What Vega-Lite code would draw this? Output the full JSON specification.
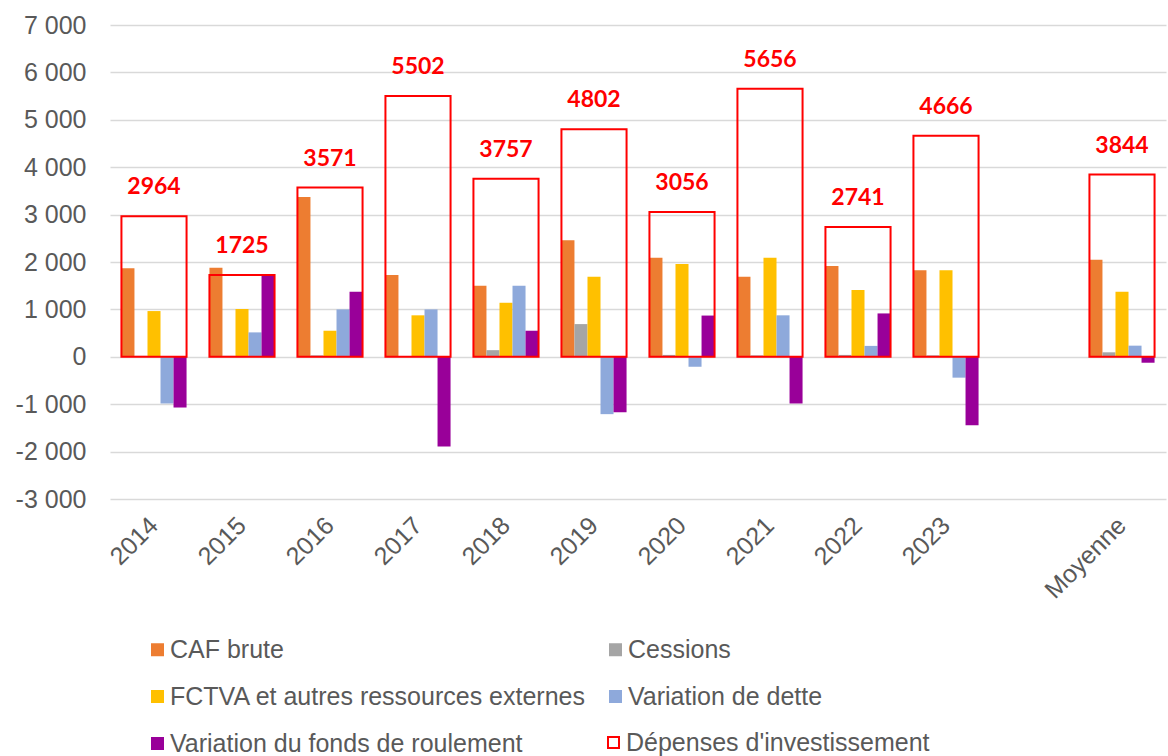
{
  "$schema": "https://vega.github.io/schema/vega-lite/v6.json",
  "width": 1056,
  "height": 474,
  "autosize": {"type": "none"},
  "padding": {"left": 110, "top": 25, "right": 2, "bottom": 257},
  "background": "white",
  "config": {"view": {"stroke": null}, "font": "Liberation Sans"},
  "data": {"values": [
    {"cat": "2014", "serie": "CAF brute", "value": 1870},
    {"cat": "2014", "serie": "Cessions", "value": 20},
    {"cat": "2014", "serie": "FCTVA et autres ressources externes", "value": 965},
    {"cat": "2014", "serie": "Variation de dette", "value": -985},
    {"cat": "2014", "serie": "Variation du fonds de roulement", "value": -1070},
    {"cat": "2014", "serie": "Dépenses d'investissement", "value": 2964},
    {"cat": "2015", "serie": "CAF brute", "value": 1880},
    {"cat": "2015", "serie": "Cessions", "value": 20},
    {"cat": "2015", "serie": "FCTVA et autres ressources externes", "value": 1010},
    {"cat": "2015", "serie": "Variation de dette", "value": 515},
    {"cat": "2015", "serie": "Variation du fonds de roulement", "value": 1715},
    {"cat": "2015", "serie": "Dépenses d'investissement", "value": 1725},
    {"cat": "2016", "serie": "CAF brute", "value": 3370},
    {"cat": "2016", "serie": "Cessions", "value": 30},
    {"cat": "2016", "serie": "FCTVA et autres ressources externes", "value": 550},
    {"cat": "2016", "serie": "Variation de dette", "value": 1000},
    {"cat": "2016", "serie": "Variation du fonds de roulement", "value": 1370},
    {"cat": "2016", "serie": "Dépenses d'investissement", "value": 3571},
    {"cat": "2017", "serie": "CAF brute", "value": 1725},
    {"cat": "2017", "serie": "Cessions", "value": 10},
    {"cat": "2017", "serie": "FCTVA et autres ressources externes", "value": 875},
    {"cat": "2017", "serie": "Variation de dette", "value": 1000},
    {"cat": "2017", "serie": "Variation du fonds de roulement", "value": -1890},
    {"cat": "2017", "serie": "Dépenses d'investissement", "value": 5502},
    {"cat": "2018", "serie": "CAF brute", "value": 1500},
    {"cat": "2018", "serie": "Cessions", "value": 140},
    {"cat": "2018", "serie": "FCTVA et autres ressources externes", "value": 1140},
    {"cat": "2018", "serie": "Variation de dette", "value": 1500},
    {"cat": "2018", "serie": "Variation du fonds de roulement", "value": 550},
    {"cat": "2018", "serie": "Dépenses d'investissement", "value": 3757},
    {"cat": "2019", "serie": "CAF brute", "value": 2460},
    {"cat": "2019", "serie": "Cessions", "value": 690},
    {"cat": "2019", "serie": "FCTVA et autres ressources externes", "value": 1690},
    {"cat": "2019", "serie": "Variation de dette", "value": -1210},
    {"cat": "2019", "serie": "Variation du fonds de roulement", "value": -1170},
    {"cat": "2019", "serie": "Dépenses d'investissement", "value": 4802},
    {"cat": "2020", "serie": "CAF brute", "value": 2090},
    {"cat": "2020", "serie": "Cessions", "value": 40},
    {"cat": "2020", "serie": "FCTVA et autres ressources externes", "value": 1960},
    {"cat": "2020", "serie": "Variation de dette", "value": -210},
    {"cat": "2020", "serie": "Variation du fonds de roulement", "value": 870},
    {"cat": "2020", "serie": "Dépenses d'investissement", "value": 3056},
    {"cat": "2021", "serie": "CAF brute", "value": 1690},
    {"cat": "2021", "serie": "Cessions", "value": 30},
    {"cat": "2021", "serie": "FCTVA et autres ressources externes", "value": 2090},
    {"cat": "2021", "serie": "Variation de dette", "value": 875},
    {"cat": "2021", "serie": "Variation du fonds de roulement", "value": -985},
    {"cat": "2021", "serie": "Dépenses d'investissement", "value": 5656},
    {"cat": "2022", "serie": "CAF brute", "value": 1915},
    {"cat": "2022", "serie": "Cessions", "value": 40},
    {"cat": "2022", "serie": "FCTVA et autres ressources externes", "value": 1410},
    {"cat": "2022", "serie": "Variation de dette", "value": 230},
    {"cat": "2022", "serie": "Variation du fonds de roulement", "value": 915},
    {"cat": "2022", "serie": "Dépenses d'investissement", "value": 2741},
    {"cat": "2023", "serie": "CAF brute", "value": 1825},
    {"cat": "2023", "serie": "Cessions", "value": 30},
    {"cat": "2023", "serie": "FCTVA et autres ressources externes", "value": 1825},
    {"cat": "2023", "serie": "Variation de dette", "value": -440},
    {"cat": "2023", "serie": "Variation du fonds de roulement", "value": -1445},
    {"cat": "2023", "serie": "Dépenses d'investissement", "value": 4666},
    {"cat": "Moyenne", "serie": "CAF brute", "value": 2050},
    {"cat": "Moyenne", "serie": "Cessions", "value": 95},
    {"cat": "Moyenne", "serie": "FCTVA et autres ressources externes", "value": 1370},
    {"cat": "Moyenne", "serie": "Variation de dette", "value": 235},
    {"cat": "Moyenne", "serie": "Variation du fonds de roulement", "value": -125},
    {"cat": "Moyenne", "serie": "Dépenses d'investissement", "value": 3844}
  ]},
  "encoding": {
    "x": {
      "field": "cat", "type": "nominal", "title": null,
      "scale": {"domain": ["2014","2015","2016","2017","2018","2019","2020","2021","2022","2023"," ","Moyenne"], "paddingInner": 0.26, "paddingOuter": 0.13},
      "axis": {"labelAngle": -45, "labelAlign": "right", "labelBaseline": "middle", "labelFontSize": 25, "labelColor": "#595959", "labelFont": "Liberation Sans", "labelPadding": 22, "ticks": false, "domain": false, "grid": false}
    },
    "y": {
      "field": "value", "type": "quantitative", "title": null, "stack": null,
      "scale": {"domain": [-3000, 7000], "nice": false},
      "axis": {"values": [-3000,-2000,-1000,0,1000,2000,3000,4000,5000,6000,7000], "labelExpr": "replace(replace(format(datum.value, ','), ',', ' '), '−', '-')", "domain": false, "ticks": false, "grid": true, "gridColor": "#d9d9d9", "gridWidth": 1.5, "labelFontSize": 25, "labelColor": "#595959", "labelFont": "Liberation Sans", "labelPadding": 24}
    }
  },
  "layer": [
    {
      "transform": [{"filter": {"not": {"field": "serie", "equal": "Dépenses d'investissement"}}}],
      "mark": {"type": "bar"},
      "encoding": {
        "xOffset": {"field": "serie", "type": "nominal", "scale": {"domain": ["CAF brute","Cessions","FCTVA et autres ressources externes","Variation de dette","Variation du fonds de roulement"], "paddingInner": 0, "paddingOuter": 0}},
        "color": {
          "field": "serie", "type": "nominal",
          "scale": {"domain": ["CAF brute","FCTVA et autres ressources externes","Variation du fonds de roulement","Cessions","Variation de dette"], "range": ["#ED7D31","#FFC000","#990099","#A5A5A5","#8EA9DB"]},
          "legend": {
            "title": null, "orient": "none", "legendX": 35, "legendY": 612, "columns": 2,
            "symbolType": "square", "symbolSize": 169, "labelFontSize": 25, "labelColor": "#595959", "labelFont": "Liberation Sans",
            "rowPadding": 21, "columnPadding": 16, "labelOffset": 0, "padding": 0, "labelLimit": 700
          }
        }
      }
    },
    {
      "transform": [{"filter": {"field": "serie", "equal": "Dépenses d'investissement"}}],
      "mark": {"type": "bar", "filled": false, "strokeWidth": 2},
      "encoding": {
        "stroke": {
          "field": "serie", "type": "nominal",
          "scale": {"domain": ["Dépenses d'investissement"], "range": ["#FF0000"]},
          "legend": {
            "title": null, "orient": "none", "legendX": 491, "legendY": 705,
            "symbolType": "square", "symbolSize": 121, "symbolStrokeWidth": 2, "symbolFillColor": "#ffffff", "labelFontSize": 25, "labelColor": "#595959", "labelFont": "Liberation Sans",
            "labelOffset": 0, "padding": 0, "labelLimit": 700
          }
        }
      }
    },
    {
      "transform": [{"filter": {"field": "serie", "equal": "Dépenses d'investissement"}}],
      "mark": {"type": "text", "font": "Lato", "fontWeight": "bold", "fontSize": 23, "color": "#FF0000", "baseline": "alphabetic", "dy": -22},
      "encoding": {"text": {"field": "value", "type": "quantitative", "format": "d"}}
    }
  ]
}
